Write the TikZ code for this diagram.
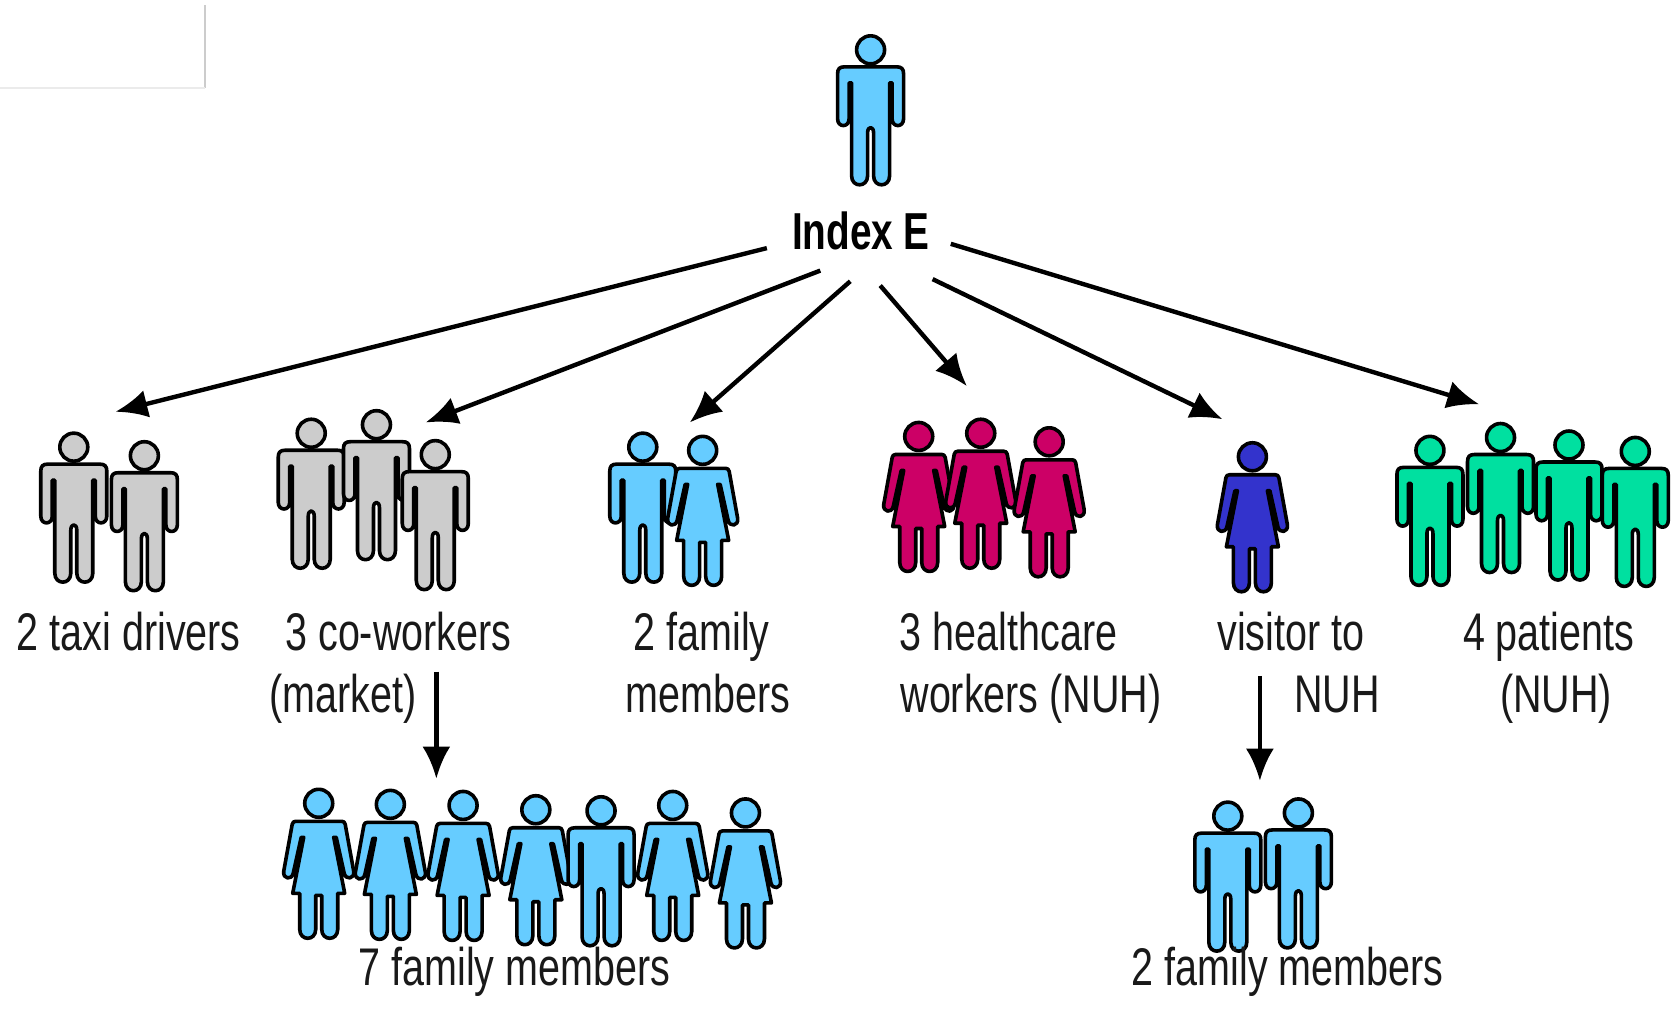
\documentclass[tikz,border=0pt]{standalone}
\usepackage{fontspec}
\usetikzlibrary{arrows.meta}
\newfontfamily\lab[FakeStretch=0.745]{Liberation Sans}
\definecolor{sky}{HTML}{66CCFF}
\definecolor{ash}{HTML}{CCCCCC}
\definecolor{rose}{HTML}{CC0066}
\definecolor{royal}{HTML}{3333CC}
\definecolor{mint}{HTML}{00E0A0}
\newcommand\manfig[3]{%
\begin{scope}[shift={(#1,#2)},x=0.5pt,y=-0.5pt]
\filldraw[figline,fill=#3] (0,14) circle[radius=14];
\filldraw[figline,fill=#3]
 (-26,31) -- (26,31) .. controls (31,31) and (33,33) .. (33,38) -- (33,83)
 .. controls (33,92) and (21.5,92) .. (21.5,83) -- (21.5,47) -- (19,47) -- (19,140)
 .. controls (19,152) and (3,152) .. (3,140) -- (3,97)
 .. controls (3,90) and (-3,90) .. (-3,97) -- (-3,140)
 .. controls (-3,152) and (-19,152) .. (-19,140) -- (-19,47) -- (-21.5,47) -- (-21.5,83)
 .. controls (-21.5,92) and (-33,92) .. (-33,83) -- (-33,38)
 .. controls (-33,33) and (-31,31) .. (-26,31) -- cycle;
\end{scope}}
\newcommand\womanfig[3]{%
\begin{scope}[shift={(#1,#2)},x=0.5pt,y=-0.5pt]
\filldraw[figline,fill=#3] (0,14) circle[radius=14];
\filldraw[figline,fill=#3]
 (-23,32) -- (23,32) .. controls (25,32) and (26,33) .. (26.5,35) -- (35,82)
 .. controls (36,90) and (27,91) .. (25.5,84) -- (17.5,48) -- (15,48) -- (26,104) -- (19,104) -- (19,140)
 .. controls (19,152) and (3,152) .. (3,140) -- (3,106) -- (-3,106) -- (-3,140)
 .. controls (-3,152) and (-19,152) .. (-19,140) -- (-19,104) -- (-26,104) -- (-15,48) -- (-17.5,48) -- (-25.5,84)
 .. controls (-27,91) and (-36,90) .. (-35,82) -- (-26.5,35)
 .. controls (-26,33) and (-25,32) .. (-23,32) -- cycle;
\end{scope}}
\tikzset{
 figline/.style={draw=black,line width=1.8pt,line join=round},
 lbl/.style={inner sep=0pt,anchor=base,text=black!90,font=\lab\fontsize{26.5}{30}\selectfont},
 link/.style={line width=2.2pt,-{Latex[length=16pt,width=14pt]}}
}
\begin{document}
\begin{tikzpicture}[x=0.53475pt,y=-0.53475pt]
\useasboundingbox (0,0) rectangle (1568,942.5);
% faint frame, top left
\draw[black!20,line width=1pt] (192,5) -- (192,82);
\draw[black!8,line width=1pt] (0,82) -- (192,82);
% figures
\manfig{814}{33.5}{sky}
\manfig{69}{405}{ash}\manfig{135}{413}{ash}
\manfig{291}{392}{ash}\manfig{352}{384}{ash}\manfig{407}{412}{ash}
\manfig{601}{405}{sky}\womanfig{657}{408}{sky}
\womanfig{859}{395}{rose}\womanfig{917}{392}{rose}\womanfig{981}{400}{rose}
\womanfig{1171}{414}{royal}
\manfig{1337}{408}{mint}\manfig{1403}{396}{mint}\manfig{1467}{403}{mint}\manfig{1529}{409}{mint}
\womanfig{298}{738}{sky}\womanfig{365}{739}{sky}\womanfig{433}{740}{sky}\womanfig{501}{744}{sky}
\manfig{562}{745}{sky}\womanfig{629}{740}{sky}\womanfig{697}{747}{sky}
\manfig{1148}{750}{sky}\manfig{1214}{747}{sky}
% labels
\node[lbl,font=\lab\bfseries\fontsize{26}{30}\selectfont,text=black] (index) at (805,233) {Index E};
\node[lbl] (taxi) at (120.5,608) {2 taxi drivers};
\node[lbl] (cowork) at (372.5,608) {3 co-workers};
\node[lbl] (market) at (320.5,666) {(market)};
\node[lbl] (fam) at (656,608) {2 family};
\node[lbl] (mem) at (662,666) {members};
\node[lbl] (hc) at (943,608) {3 healthcare};
\node[lbl] (wk) at (964,666) {workers (NUH)};
\node[lbl] (vis) at (1207,608) {visitor to};
\node[lbl] (nuh) at (1250,666) {NUH};
\node[lbl] (pat) at (1448,608) {4 patients};
\node[lbl] (pnuh) at (1455,666) {(NUH)};
\node[lbl] (seven) at (481,921) {7 family members};
\node[lbl] (two) at (1204,921) {2 family members};
% connector ends
\coordinate (s1) at (717,232); \coordinate (e1) at (108,385);
\coordinate (s2) at (767,253); \coordinate (e2) at (398,395);
\coordinate (s3) at (795,263); \coordinate (e3) at (645,395);
\coordinate (s4) at (823,267); \coordinate (e4) at (904,361);
\coordinate (s5) at (872,261); \coordinate (e5) at (1143,392);
\coordinate (s6) at (889,228); \coordinate (e6) at (1383,378);
\coordinate (s7) at (408,628); \coordinate (e7) at (408,728);
\coordinate (s8) at (1178,632); \coordinate (e8) at (1178,730);
\foreach \i in {1,...,8} \draw[link] (s\i) -- (e\i);
\end{tikzpicture}
\end{document}
